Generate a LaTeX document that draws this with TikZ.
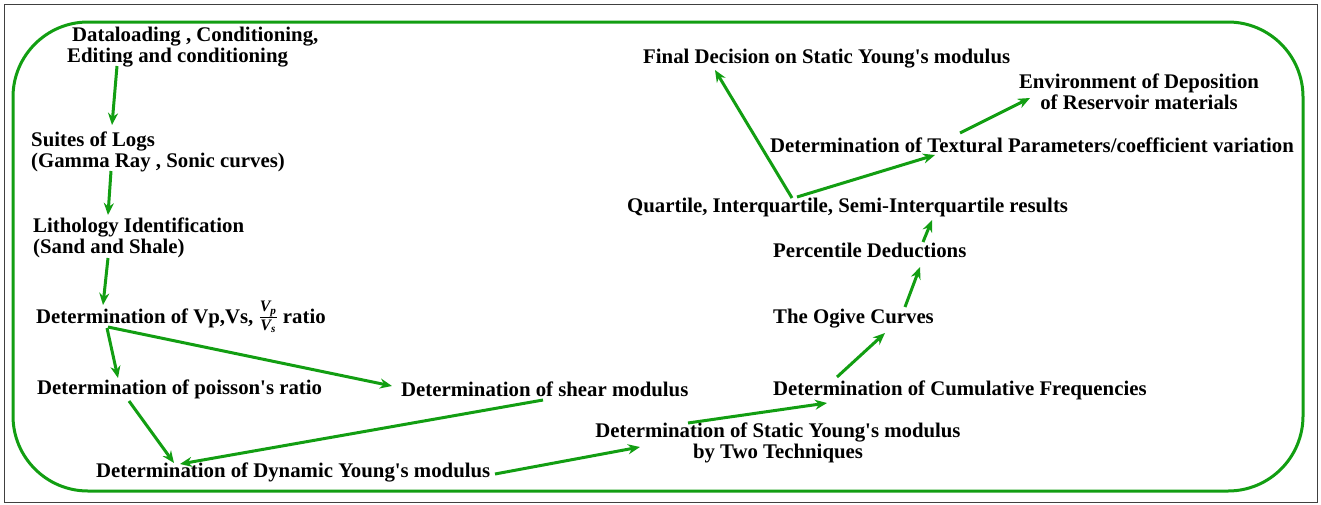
\documentclass[tikz,border=0pt]{standalone}
\usepackage{fontspec}
\setmainfont{Liberation Serif}
\usepackage{amsmath}
\usetikzlibrary{calc,arrows.meta}
\definecolor{arrgreen}{RGB}{18,158,18}
\newcommand{\apos}{\textquotesingle}
\newcommand{\vpart}[1]{\text{\fontsize{16}{16}\selectfont\itshape V\textsubscript{#1}}}
\tikzset{
  lbl/.style={font=\fontsize{20.8}{21}\selectfont\bfseries, inner sep=0pt, anchor=west, align=left},
  flow/.style={->, draw=arrgreen, line width=3pt}
}

\begin{document}
\begin{tikzpicture}[x=1pt, y=-1pt, >={Stealth[length=12pt,width=10pt]}]
\useasboundingbox (0,0) rectangle (1321,504);
\draw [black!75, line width=1pt] (4.5,4) rectangle (1317,502);
\draw [arrgreen, line width=3pt, rounded corners=75pt] (13,22) rectangle (1303,491);

\node [lbl] (data) at (67,47.5) {\hspace*{5pt}Dataloading , Conditioning,\\Editing and conditioning};
\node [lbl] (logs) at (31,151.5) {Suites of Logs\\(Gamma Ray , Sonic curves)};
\node [lbl] (litho) at (33,237.5) {Lithology Identification\\(Sand and Shale)};
\node [lbl, anchor=base west] (vpvs) at (36,323) {Determination of Vp,Vs, $\frac{\vpart{p}}{\vpart{s}}$ ratio};
\node [lbl] (poisson) at (37,389) {Determination of poisson\apos s ratio};
\node [lbl] (shear) at (401,389) {Determination of shear modulus};
\node [lbl] (dynamic) at (96,472) {Determination of Dynamic Young\apos s modulus};
\node [lbl, anchor=center, align=center] (static) at (778,443) {Determination of Static Young\apos s modulus\\by Two Techniques};
\node [lbl] (cumul) at (773,390) {Determination of Cumulative Frequencies};
\node [lbl] (ogive) at (773,319) {The Ogive Curves};
\node [lbl] (percent) at (773,250) {Percentile Deductions};
\node [lbl] (quart) at (627,207) {Quartile, Interquartile, Semi-Interquartile results};
\node [lbl] (textural) at (770,145) {Determination of Textural Parameters/coefficient variation};
\node [lbl, anchor=center, align=center] (environ) at (1139,92) {Environment of Deposition\\of Reservoir materials};
\node [lbl] (final) at (643,59) {Final Decision on Static Young\apos s modulus};

\draw [flow] ($(data.west)+(50,18.5)$) -- ($(logs.west)+(81,-26.5)$);
\draw [flow] ($(logs.west)+(80,19.5)$) -- ($(litho.west)+(75,-22.5)$);
\draw [flow] ($(litho.west)+(75,20.5)$) -- ($(vpvs.base west)+(67,-18)$);
\draw [flow] ($(vpvs.base west)+(71,5)$) -- ($(poisson.west)+(81,-11)$);
\draw [flow] ($(vpvs.base west)+(72,4)$) -- ($(shear.west)+(-9,-3)$);
\draw [flow] ($(poisson.west)+(92,12)$) -- ($(dynamic.west)+(78,-9)$);
\draw [flow] ($(shear.west)+(142,11)$) -- ($(dynamic.west)+(84,-8)$);
\draw [flow] ($(dynamic.west)+(399,2)$) -- ($(static.center)+(-138,4)$);
\draw [flow] ($(static.center)+(-90,-20)$) -- ($(cumul.west)+(54,13)$);
\draw [flow] ($(cumul.west)+(64,-13)$) -- ($(ogive.west)+(112,14)$);
\draw [flow] ($(ogive.west)+(132,-12)$) -- ($(percent.west)+(147,17)$);
\draw [flow] ($(percent.west)+(150,-8)$) -- ($(quart.west)+(305,13)$);
\draw [flow] ($(quart.west)+(165,-9)$) -- ($(final.west)+(72,11)$);
\draw [flow] ($(quart.west)+(170,-10)$) -- ($(textural.west)+(165,10)$);
\draw [flow] ($(textural.west)+(190,-12)$) -- ($(environ.center)+(-109,6)$);
\end{tikzpicture}
\end{document}
